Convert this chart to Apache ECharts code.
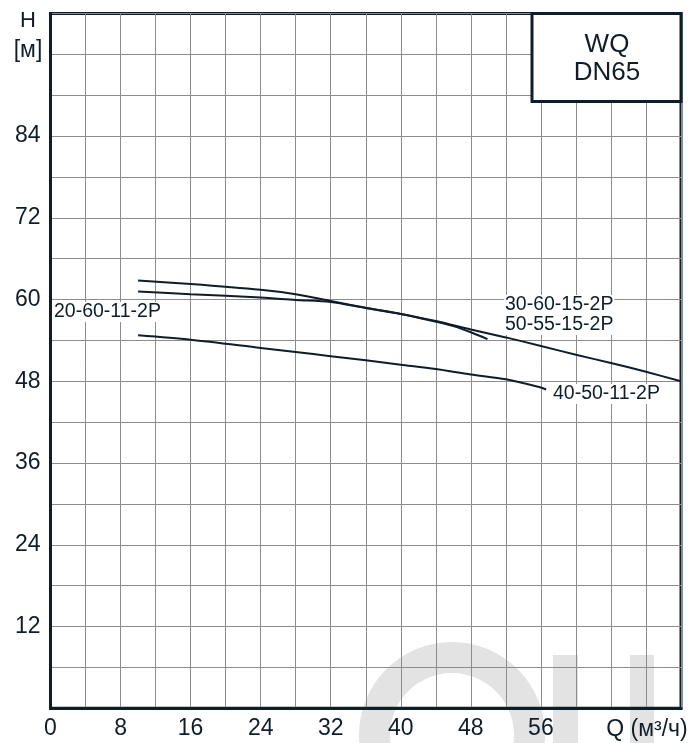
<!DOCTYPE html>
<html>
<head>
<meta charset="utf-8">
<script src="https://cdn.jsdelivr.net/npm/echarts@6/dist/echarts.min.js"></script>
<style>
html,body{margin:0;padding:0;background:#fff;}
#chart{width:697px;height:743px;}
</style>
</head>
<body>
<div id="chart"></div>
<script>
// Flow Q (m3/h) and head H (m)
var qLong = [10, 16, 24, 28, 32, 36, 40, 44, 48, 52, 56, 60, 64, 68, 72];
var hLong = [62.8, 62.3, 61.45, 60.8, 59.8, 58.8, 57.9, 56.85, 55.6, 54.45, 53.2, 51.9, 50.7, 49.4, 48.0];

var qShort = [10, 16, 24, 28, 32, 36, 40, 44, 46, 48, 49.9];
var hShort = [61.2, 60.8, 60.3, 59.95, 59.65, 58.75, 57.9, 56.75, 56.1, 55.2, 54.2];

var qLow = [10, 16, 24, 28, 32, 36, 40, 44, 48, 52, 56, 56.6];
var hLow = [54.75, 54.1, 52.9, 52.3, 51.7, 51.1, 50.45, 49.8, 49.0, 48.3, 47.1, 46.8];

var curveNames = ['30-60-15-2P', '20-60-11-2P', '40-50-11-2P'];
var xTickLabels = [0, 8, 16, 24, 32, 40, 48, 56];
var yTickLabels = [12, 24, 36, 48, 60, 72, 84];

function pairs(xs, ys) { return xs.map(function (x, i) { return [x, ys[i]]; }); }

var dark = '#0e1d2a';
var font = '"Liberation Sans", Arial, sans-serif';

var chart = echarts.init(document.getElementById('chart'));
function lineSeries(name, data) {
  return {
    name: name, type: 'line', data: data, showSymbol: false, symbol: 'none',
    smooth: 0.3, lineStyle: { color: dark, width: 2 }, z: 3, silent: true
  };
}

var option = {
  animation: false,
  backgroundColor: '#fff',
  grid: { left: 50.5, right: 16, top: 13.5, bottom: 34.7, show: true, borderColor: dark, borderWidth: 3 },
  xAxis: {
    type: 'value', min: 0, max: 72, interval: 4,
    axisLine: { show: true, lineStyle: { color: dark, width: 3 } },
    axisTick: { show: false },
    splitLine: { show: true, lineStyle: { color: '#8c8c8c', width: 1 } },
    axisLabel: {
      color: dark, fontSize: 23, fontFamily: font, margin: 9,
      formatter: function (v) { return xTickLabels.indexOf(v) >= 0 ? String(v) : ''; }
    }
  },
  yAxis: {
    type: 'value', min: 0, max: 102, interval: 6,
    axisLine: { show: true, lineStyle: { color: dark, width: 3 } },
    axisTick: { show: false },
    splitLine: { show: true, lineStyle: { color: '#8c8c8c', width: 1 } },
    axisLabel: {
      color: dark, fontSize: 23, fontFamily: font, margin: 10,
      formatter: function (v) { return yTickLabels.indexOf(v) >= 0 ? String(v) : ''; }
    }
  },
  series: [
    lineSeries(curveNames[0], pairs(qLong, hLong)),
    lineSeries(curveNames[1], pairs(qShort, hShort)),
    lineSeries(curveNames[2], pairs(qLow, hLow))
  ],
  graphic: [
    // faint watermark
    { type: 'ring', z: -10, shape: { cx: 452, cy: 735, r: 93, r0: 62 }, style: { fill: '#e3e3e3' } },
    { type: 'rect', z: -10, shape: { x: 553, y: 655, width: 25, height: 100 }, style: { fill: '#e3e3e3' } },
    { type: 'rect', z: -10, shape: { x: 630, y: 655, width: 24, height: 100 }, style: { fill: '#e3e3e3' } },
    // axis titles
    { type: 'text', z: 10, x: 28, y: 21, style: { text: 'H', font: '22px ' + font, fill: dark, textAlign: 'center', textVerticalAlign: 'middle' } },
    { type: 'text', z: 10, x: 28, y: 51, style: { text: '[м]', font: '23px ' + font, fill: dark, textAlign: 'center', textVerticalAlign: 'middle' } },
    { type: 'text', z: 10, x: 647, y: 730, style: { text: 'Q (м³/ч)', font: '23px ' + font, fill: dark, textAlign: 'center', textVerticalAlign: 'middle' } },
    // model box
    { type: 'rect', z: 20, shape: { x: 532, y: 13.5, width: 149, height: 88 }, style: { fill: '#fff', stroke: dark, lineWidth: 3 } },
    { type: 'text', z: 21, x: 607, y: 45, style: { text: 'WQ', font: '26px ' + font, fill: dark, textAlign: 'center', textVerticalAlign: 'middle' } },
    { type: 'text', z: 21, x: 607, y: 73, style: { text: 'DN65', font: '26px ' + font, fill: dark, textAlign: 'center', textVerticalAlign: 'middle' } },
    // curve labels
    { type: 'text', z: 21, x: 53, y: 312, style: { text: '20-60-11-2P', font: '19.5px ' + font, fill: dark, textVerticalAlign: 'middle', backgroundColor: '#fff', padding: [0, 1] } },
    { type: 'text', z: 21, x: 504, y: 305, style: { text: '30-60-15-2P', font: '19.5px ' + font, fill: dark, textVerticalAlign: 'middle', backgroundColor: '#fff', padding: [0, 1] } },
    { type: 'text', z: 21, x: 504, y: 325, style: { text: '50-55-15-2P', font: '19.5px ' + font, fill: dark, textVerticalAlign: 'middle', backgroundColor: '#fff', padding: [0, 1] } },
    { type: 'text', z: 21, x: 552, y: 394, style: { text: '40-50-11-2P', font: '19.5px ' + font, fill: dark, textVerticalAlign: 'middle', backgroundColor: '#fff', padding: [0, 1] } }
  ]
};
chart.setOption(option);
</script>
</body>
</html>
